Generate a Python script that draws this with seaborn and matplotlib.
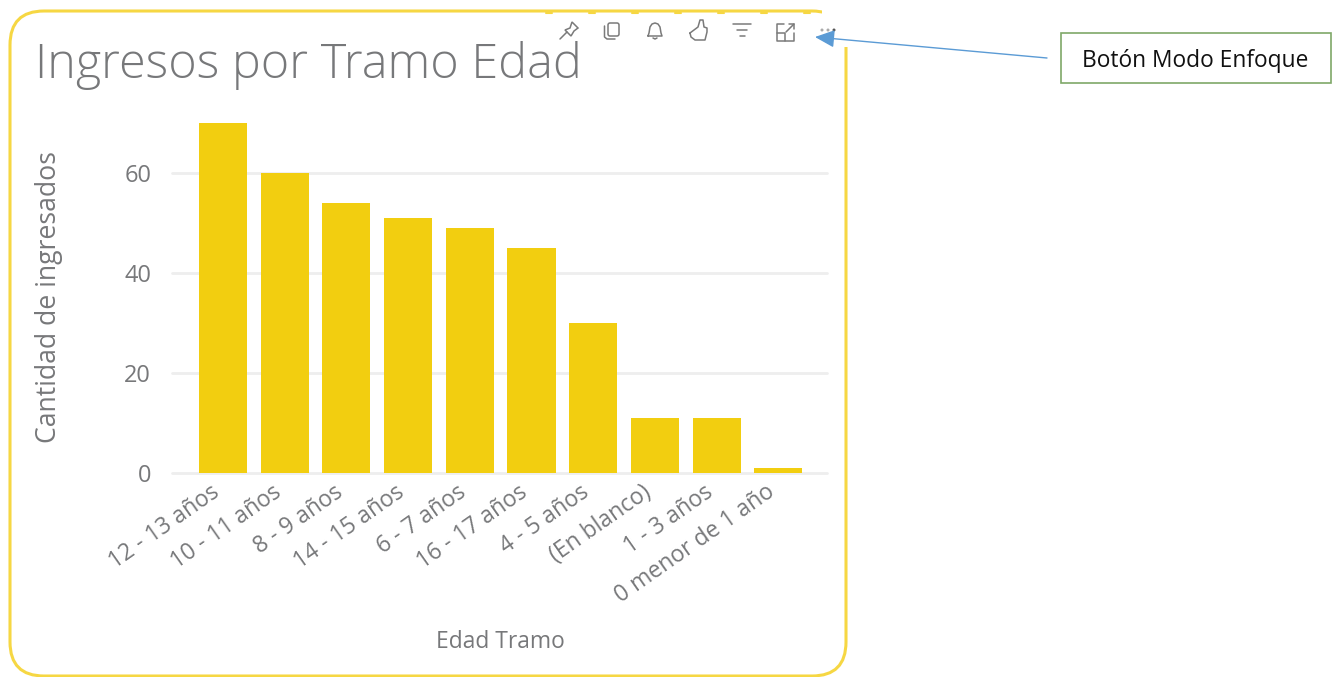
import matplotlib
matplotlib.use("Agg")
import matplotlib.pyplot as plt
from matplotlib.patches import FancyBboxPatch, Rectangle, Circle, Polygon
from matplotlib.transforms import ScaledTranslation
import pandas as pd
import seaborn as sns

# Data
tramos = ["12 - 13 años", "10 - 11 años", "8 - 9 años", "14 - 15 años", "6 - 7 años",
          "16 - 17 años", "4 - 5 años", "(En blanco)", "1 - 3 años", "0 menor de 1 año"]
ingresados = [70, 60, 54, 51, 49, 45, 30, 11, 11, 1]
yticks = [0, 20, 40, 60]

df = pd.DataFrame({"Edad Tramo": tramos, "Cantidad de ingresados": ingresados})

sns.set_theme(style="white")
plt.rcParams["font.family"] = ["Open Sans", "DejaVu Sans"]

GREY = "#77787A"
ICON = "#7a7a7a"
YELLOW = "#F2CE10"
BORDER = "#F6D743"

fig = plt.figure(figsize=(13.37, 6.77), dpi=100, facecolor="white")

# Background layer in pixel coordinates: card, icons, callout
bg = fig.add_axes([0, 0, 1, 1])
bg.set_xlim(0, 1337)
bg.set_ylim(677, 0)
bg.axis("off")

card = FancyBboxPatch((10, 11), 836, 665, boxstyle="round,pad=0,rounding_size=34",
                      fc="white", ec=BORDER, lw=2.2)
bg.add_patch(card)
# header hides the top right corner of the card
bg.add_patch(Rectangle((822, 4), 30, 43, fc="white", ec="none", zorder=2))
for bx in range(546, 815, 43):
    bg.plot([bx, bx + 6], [12.5, 12.5], color=BORDER, lw=1.5, zorder=2)

bg.text(35, 65, "Ingresos por Tramo Edad", fontsize=34.9, color=GREY, va="center", ha="left",
        fontweight="light")

# Header icons
icon_kw = dict(color=ICON, lw=1.1, zorder=3, solid_capstyle="round")
# pin
bg.plot([560, 567], [39, 32], **icon_kw)
bg.add_patch(Polygon([[565, 30], [570, 28], [572, 22], [578, 28], [574, 31], [571, 36]],
                     closed=True, fc="none", ec=ICON, lw=1.1, zorder=3))
# copy
bg.add_patch(FancyBboxPatch((608, 23), 11, 13, boxstyle="round,pad=0,rounding_size=2",
                            fc="none", ec=ICON, lw=1.1, zorder=3))
bg.plot([604.5, 604.5, 607, 615], [26, 37, 39, 39], **icon_kw)
# bell
bg.plot([648, 649, 650, 652, 655, 658, 660, 661, 662, 648],
        [36, 33, 27, 24, 23, 24, 27, 33, 36, 36], **icon_kw)
bg.plot([653, 655, 657], [38, 39, 38], **icon_kw)
# thumb
bg.plot([690, 694, 698, 700, 703, 704, 707, 707, 705, 695, 691, 690],
        [33, 30, 27, 20, 20, 27, 28, 32, 40, 40, 37, 33], **icon_kw)
# filter
bg.plot([733, 751], [24, 24], **icon_kw)
bg.plot([737, 747], [30, 30], **icon_kw)
bg.plot([740, 745], [36, 36], **icon_kw)
# expand
bg.plot([784, 777, 777, 794, 794], [24, 24, 41, 41, 33], **icon_kw)
bg.plot([777, 785, 785], [33, 33, 41], **icon_kw)
bg.plot([786, 794], [32, 24], **icon_kw)
bg.plot([789, 794, 794], [24, 24, 29], **icon_kw)
# dots
for dx, dc in zip([822, 828, 834], ["#aaaaaa", "#aaaaaa", "#555555"]):
    bg.add_patch(Circle((dx, 30), 1.5, fc=dc, ec="none", zorder=3))

# Callout box and arrow
bg.add_patch(Rectangle((1061, 33), 270, 50, fc="white", ec="#7FA868", lw=1.2))
bg.text(1195, 61, "Botón Modo Enfoque", fontsize=16.4, color="#111111", ha="center", va="center")
bg.annotate("", xy=(815, 37), xytext=(1047, 58),
            arrowprops=dict(arrowstyle="-|>,head_length=1.0,head_width=0.45",
                            color="#5B9BD5", lw=1, shrinkA=0, shrinkB=0))

# Chart
ax = fig.add_axes([172 / 1337, 1 - 473 / 677, 655 / 1337, 351 / 677])
ax.patch.set_alpha(0)
sns.barplot(data=df, x="Edad Tramo", y="Cantidad de ingresados", color=YELLOW, saturation=1,
            width=0.78, linewidth=0, ax=ax, zorder=3)
ax.set_xlim(-0.827, 9.79)
ax.set_ylim(0, 70.2)
ax.set_yticks(yticks)
ax.yaxis.grid(True, color="#EEEEEE", lw=2)
ax.xaxis.grid(False)
ax.set_axisbelow(True)
for gl in ax.get_ygridlines():
    gl.set_clip_on(False)
sns.despine(ax=ax, left=True, bottom=True, top=True, right=True)
ax.tick_params(axis="y", length=0, labelsize=17, labelcolor=GREY, pad=15)
ax.tick_params(axis="x", length=0, labelsize=16.5, labelcolor=GREY, pad=5)
shift = ScaledTranslation(-13 / 100, 0, fig.dpi_scale_trans)
for lab in ax.get_xticklabels():
    lab.set_rotation(35)
    lab.set_ha("right")
    lab.set_rotation_mode("anchor")
    lab.set_transform(lab.get_transform() + shift)

ax.set_xlabel("Edad Tramo", fontsize=16.4, color=GREY)
ax.set_ylabel("Cantidad de ingresados", fontsize=19.2, color=GREY)
ax.xaxis.set_label_coords(0.502, -0.482)
ax.xaxis.label.set_va("center")
ax.yaxis.set_label_coords(-0.188, 0.501)
ax.yaxis.label.set_va("center")

fig.savefig("out.png", dpi=100)
